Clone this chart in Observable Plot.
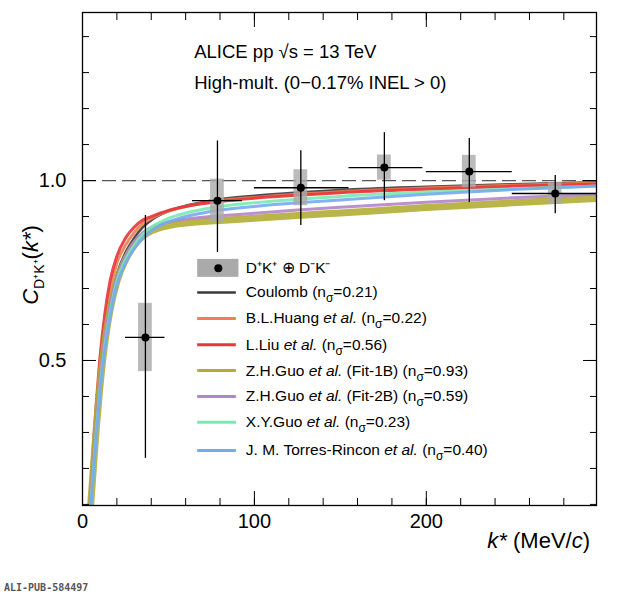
<!DOCTYPE html>
<html><head><meta charset="utf-8">
<script src="https://cdn.jsdelivr.net/npm/d3@7"></script>
<script src="https://cdn.jsdelivr.net/npm/@observablehq/plot@0.6"></script>
<style>body{margin:0;background:#fff;font-family:"Liberation Sans",Arial,sans-serif}</style>
</head><body><div id="c"></div>
<script>
const kGrid=[4,6,8,10,13,16,20,25,30,35,40,50,60,70,80,100,125,150,200,250,299];
const coulomb=[0.06,0.2,0.33,0.44,0.57,0.66,0.74,0.8,0.84,0.87,0.89,0.915,0.93,0.94,0.948,0.958,0.967,0.974,0.983,0.99,0.995];
const huang  =[0.07,0.22,0.36,0.47,0.60,0.69,0.77,0.82,0.855,0.88,0.895,0.915,0.928,0.937,0.944,0.953,0.962,0.969,0.979,0.987,0.993];
const liu    =[0.08,0.24,0.38,0.50,0.63,0.72,0.79,0.84,0.87,0.89,0.9,0.917,0.928,0.936,0.942,0.951,0.959,0.966,0.976,0.984,0.99];
const guo1b  =[0.05,0.18,0.31,0.42,0.55,0.64,0.72,0.78,0.82,0.845,0.86,0.875,0.882,0.886,0.889,0.895,0.903,0.91,0.925,0.938,0.95];
const guo2b  =[0.05,0.19,0.32,0.43,0.56,0.65,0.73,0.79,0.83,0.855,0.87,0.885,0.893,0.898,0.902,0.909,0.918,0.926,0.94,0.952,0.962];
const xyguo  =[0.04,0.17,0.30,0.41,0.54,0.63,0.72,0.78,0.82,0.85,0.87,0.895,0.91,0.92,0.928,0.938,0.948,0.956,0.968,0.977,0.984];
const torres =[0.04,0.16,0.29,0.40,0.53,0.62,0.71,0.77,0.81,0.84,0.86,0.885,0.9,0.91,0.918,0.928,0.938,0.946,0.962,0.975,0.985];
const models=[
 ["Coulomb (nσ=0.21)",coulomb,"#3a3a3a",2.5],
 ["B.L.Huang et al. (nσ=0.22)",huang,"#f08050",3],
 ["L.Liu et al. (nσ=0.56)",liu,"#e8343c",3],
 ["Z.H.Guo et al. (Fit-1B) (nσ=0.93)",guo1b,"#b3ad34",7],
 ["Z.H.Guo et al. (Fit-2B) (nσ=0.59)",guo2b,"#b384c8",3],
 ["X.Y.Guo et al. (nσ=0.23)",xyguo,"#78eab0",3],
 ["J. M. Torres-Rincon et al. (nσ=0.40)",torres,"#74aaf0",3]];
const ptK=[36.6,78.5,127,175.6,225,275];
const ptC=[0.564,0.944,0.98,1.036,1.025,0.964];
const statLo=[0.228,0.80,0.875,0.944,0.939,0.908];
const statHi=[0.903,1.11,1.083,1.133,1.117,1.014];
const kLo=[25,64,100,155,200,250];
const kHi=[48,93,155,198,250,299];
const sysH=[0.095,0.06,0.05,0.035,0.045,0.03];
const pts=ptK.map((k,i)=>({k,c:ptC[i],lo:statLo[i],hi:statHi[i],kl:kLo[i],kh:kHi[i],s:sysH[i]}));
const lineData=[];
models.forEach(([n,v,col,w],m)=>v.forEach((c,i)=>lineData.push({m,k:kGrid[i],c})));
const legY=[0.756,0.689,0.617,0.544,0.472,0.4,0.328,0.25];
const none=()=>"";
const marks=[
 Plot.ruleY([1],{stroke:"#555",strokeDasharray:"14,6",strokeWidth:1.3}),
 ...models.map(([n,v,col,w],m)=>Plot.line(lineData.filter(d=>d.m===m),{x:"k",y:"c",stroke:col,strokeWidth:w,curve:"monotone-x",clip:true,strokeOpacity:0.9})),
 Plot.rect(pts,{x1:d=>d.k-4,x2:d=>d.k+4,y1:d=>d.c-d.s,y2:d=>d.c+d.s,fill:"#aaa",fillOpacity:0.8}),
 Plot.ruleX(pts,{x:"k",y1:"lo",y2:"hi",stroke:"black",strokeWidth:1.3}),
 Plot.ruleY(pts,{y:"c",x1:"kl",x2:"kh",stroke:"black",strokeWidth:1.3}),
 Plot.dot(pts,{x:"k",y:"c",r:4,fill:"black"}),
 Plot.rect([0],{x1:67,x2:91,y1:legY[0]-0.025,y2:legY[0]+0.025,fill:"#aaa"}),
 Plot.dot([0],{x:79,y:legY[0],r:4,fill:"black"}),
 Plot.text(["D⁺K⁺ ⊕ D⁻K⁻"],{x:95,y:legY[0],textAnchor:"start",fontSize:15.5}),
 ...models.map(([n,v,col,w],m)=>Plot.ruleY([legY[m+1]],{x1:67,x2:89.5,stroke:col,strokeWidth:Math.min(w,3)})),
 Plot.text(models.map(d=>d[0]),{x:95,y:(d,i)=>legY[i+1],textAnchor:"start",fontSize:15.5}),
 Plot.text(["ALICE pp √s = 13 TeV","High-mult. (0−0.17% INEL > 0)"],{x:65,y:(d,i)=>[1.356,1.272][i],textAnchor:"start",fontSize:18.5}),
 Plot.frame({stroke:"black",strokeWidth:1.3}),
 Plot.axisX({ticks:[0,100,200],tickSize:-14,fontSize:20,tickPadding:22}),
 Plot.axisX({ticks:d3.range(0,300,20),tickSize:-7,tickFormat:none}),
 Plot.axisX({anchor:"top",ticks:[0,100,200],tickSize:-14,tickFormat:none}),
 Plot.axisX({anchor:"top",ticks:d3.range(0,300,20),tickSize:-7,tickFormat:none}),
 Plot.axisY({ticks:[0.5,1.0],tickSize:-14,fontSize:20,tickPadding:30,tickFormat:d=>d.toFixed(1)}),
 Plot.axisY({ticks:d3.range(0.1,1.47,0.1),tickSize:-7,tickFormat:none}),
 Plot.axisY({anchor:"right",ticks:[0.5,1.0],tickSize:-14,tickFormat:none}),
 Plot.axisY({anchor:"right",ticks:d3.range(0.1,1.47,0.1),tickSize:-7,tickFormat:none}),
];
const p=Plot.plot({width:620,height:560,marginLeft:82,marginRight:24,marginTop:12,marginBottom:55,
 x:{domain:[0,299],label:null},y:{domain:[0.097,1.467],label:null},style:{fontFamily:"Liberation Sans, Arial",color:"black"},marks});
const svg=d3.select(p);
svg.selectAll("text").each(function(){
 const t=this.textContent;
 const m=t.match(/^(.*?)(?:( et al\.)(.*))?\(nσ=(.*)\)$/);
 if(m){const s=d3.select(this);s.text(null);
   s.append("tspan").text(m[1]);
   if(m[2]){s.append("tspan").attr("font-style","italic").text(" et al.");s.append("tspan").text(m[3]);}
   s.append("tspan").text("(n");
   s.append("tspan").attr("font-size",12).attr("dy",5).text("σ");
   s.append("tspan").attr("dy",-5).text("="+m[4]+")");}
});
const xt=svg.append("text").attr("x",590).attr("y",548).attr("text-anchor","end").attr("font-size",22);
xt.append("tspan").attr("font-style","italic").text("k*");xt.append("tspan").text(" (MeV/");
xt.append("tspan").attr("font-style","italic").text("c");xt.append("tspan").text(")");
const yt=svg.append("text").attr("transform","translate(38,265) rotate(-90)").attr("text-anchor","middle").attr("font-size",22);
yt.append("tspan").attr("font-style","italic").text("C");
yt.append("tspan").attr("font-size",14).attr("dy",6).text("D⁺K⁺");
yt.append("tspan").attr("dy",-6).text("(");
yt.append("tspan").attr("font-style","italic").text("k*");
yt.append("tspan").text(")");
document.getElementById("c").append(p);
const f=document.createElement("div");
f.textContent="ALI-PUB-584497";
f.style.cssText="font-family:'DejaVu Sans Mono',monospace;font-size:10px;font-weight:bold;color:#555;margin:22px 0 0 4px";
document.getElementById("c").append(f);
</script></body></html>
